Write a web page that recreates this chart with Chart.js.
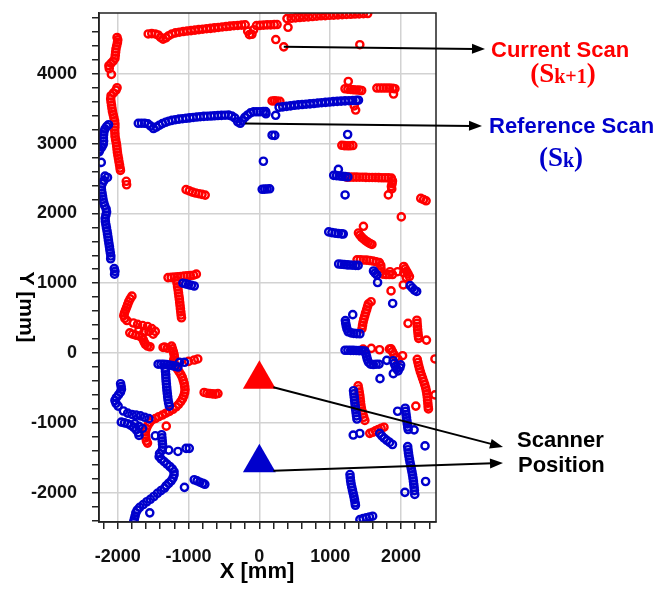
<!DOCTYPE html>
<html>
<head>
<meta charset="utf-8">
<script src="https://cdn.jsdelivr.net/npm/chart.js@4.4.0/dist/chart.umd.min.js"></script>
<style>
  html, body { margin: 0; padding: 0; background: #fff; }
  #wrap { width: 660px; height: 593px; }
</style>
</head>
<body>
<div id="wrap"><canvas id="scan" width="660" height="593"></canvas></div>
<script>
// axis ranges [mm]
const xRange = [-2265, 2495];
const yRange = [-2420, 4870];

// scanner positions
const currentPose = [[0, -375]];
const referencePose = [[0, -1570]];

// ---- current scan S(k+1), red ----
const curTopLeft = [[-1570,4570],[-1520,4575],[-1470,4570],[-1430,4555],[-1395,4520],[-1360,4495],[-1320,4515],[-1280,4545],[-1235,4570],[-1185,4585],[-1130,4595],[-1075,4605],[-1020,4612],[-965,4618],[-910,4625],[-855,4632],[-800,4638],[-745,4645],[-690,4650],[-635,4657],[-580,4663],[-525,4670],[-470,4676],[-415,4682],[-360,4688],[-305,4692],[-250,4697],[-200,4700],[-165,4610],[-140,4560],[-105,4565],[-80,4630],[-40,4690],[10,4693],[60,4697],[110,4700],[160,4700],[210,4703],[250,4705],[405,4665],[232,4490],[345,4385],[1419,4416]];
const curTopRight = [[390,4790],[450,4795],[510,4800],[570,4805],[630,4810],[690,4815],[750,4820],[810,4825],[870,4830],[930,4833],[990,4837],[1050,4840],[1110,4843],[1170,4847],[1230,4850],[1290,4852],[1350,4855],[1410,4857],[1470,4860],[1530,4862]];
const curMidRight = [[1256,3890],[1210,3785],[1250,3780],[1290,3775],[1330,3770],[1370,3768],[1410,3765],[1445,3760],[1340,3540],[1360,3480],[1660,3795],[1705,3795],[1750,3795],[1795,3795],[1840,3795],[1885,3790],[1915,3785],[1895,3710],[180,3610],[215,3612],[250,3608],[290,3605],[1165,2975],[1200,2970],[1240,2968],[1280,2968],[1320,2972]];
const curWall2500 = [[1235,2520],[1280,2520],[1325,2520],[1370,2520],[1415,2518],[1460,2518],[1505,2516],[1550,2515],[1595,2515],[1640,2513],[1685,2512],[1730,2510],[1775,2510],[1820,2508],[1865,2505],[1880,2465],[1875,2425],[1865,2385],[1870,2350],[1822,2265],[2280,2215],[2320,2198],[2355,2180],[2005,1950]];
const curLeftTop = [[-2010,4520],[-2000,4485],[-2005,4445],[-2015,4400],[-2025,4355],[-2030,4310],[-2035,4265],[-2040,4220],[-2065,4180],[-2095,4150],[-2125,4115],[-2120,4075],[-2090,3990]];
const curLeftCol = [[-2010,3800],[-2025,3765],[-2060,3725],[-2095,3685],[-2100,3640],[-2095,3595],[-2088,3550],[-2082,3505],[-2075,3460],[-2065,3415],[-2055,3370],[-2045,3325],[-2040,3280],[-2040,3235],[-2043,3190],[-2040,3145],[-2038,3100],[-2030,3055],[-2022,3010],[-2015,2965],[-2010,2920],[-2005,2875],[-1998,2830],[-1990,2785],[-1983,2740],[-1975,2695],[-1968,2650],[-1962,2615],[-1880,2460],[-1875,2410]];
const curMidLeft = [[-1035,2340],[-990,2322],[-945,2305],[-900,2292],[-855,2282],[-810,2272],[-765,2262],[-1290,1080],[-1245,1083],[-1200,1088],[-1155,1092],[-1110,1097],[-1065,1102],[-1020,1106],[-975,1110],[-930,1115],[-890,1130],[-1170,1040],[-1162,995],[-1155,950],[-1148,905],[-1142,860],[-1136,815],[-1130,770],[-1125,725],[-1120,680],[-1115,635],[-1110,590],[-1105,545],[-1100,505]];
const curLeftCurve = [[-1800,815],[-1825,775],[-1845,735],[-1860,695],[-1875,655],[-1890,615],[-1905,575],[-1915,535],[-1900,495],[-1870,465],[-1780,430],[-1720,410],[-1650,395],[-1580,380],[-1520,350],[-1470,310],[-1560,310],[-1630,300],[-1700,330],[-1500,270],[-1830,290],[-1790,270],[-1745,255],[-1700,245],[-1660,225],[-1640,190],[-1625,155],[-1610,125],[-1580,100],[-1545,90],[-1340,85],[-1300,70]];
const curSCurve = [[-1240,100],[-1228,60],[-1215,20],[-1205,-20],[-1200,-60],[-1210,-100],[-1205,-140],[-1185,-180],[-1160,-225],[-1135,-265],[-1110,-305],[-1090,-345],[-1075,-390],[-1062,-435],[-1055,-480],[-1050,-525],[-1055,-570],[-1068,-615],[-1085,-655],[-1110,-695],[-1140,-735],[-1175,-770],[-1220,-805],[-1270,-835],[-1320,-862],[-1370,-888],[-1420,-912],[-1470,-938],[-1520,-962],[-1550,-995],[-1575,-1035],[-1595,-1080],[-1608,-1125],[-1610,-1170],[-1605,-1215],[-1595,-1260],[-1580,-1290],[-1360,80],[-1000,-120],[-920,-100],[-870,-85],[-1315,-1047],[-780,-565],[-740,-575],[-700,-580],[-660,-585],[-620,-588],[-585,-580]];
const curRight = [[1470,1815],[1400,1720],[1420,1688],[1445,1658],[1475,1630],[1505,1605],[1535,1585],[1565,1568],[1590,1555],[1380,1335],[1425,1335],[1470,1332],[1515,1330],[1560,1325],[1605,1318],[1650,1305],[1695,1295],[1715,1255],[1718,1210],[1722,1165],[1745,1130],[1790,1125],[1835,1125],[1880,1125],[1845,1165],[1953,1165],[2040,1240],[2060,1205],[2080,1170],[2100,1135],[2120,1095],[2040,1150],[2075,1080],[2033,975],[1860,890],[2100,425],[2360,185],[1578,735],[1450,350],[1457,395],[1465,440],[1475,485],[1488,530],[1500,575],[1515,620],[1528,665],[1540,705],[2225,470],[2228,425],[2232,380],[2236,335],[2240,290],[2245,245],[2250,210]];
const curLowRight = [[1465,57],[1581,66],[1698,47],[1837,57],[2023,-38],[1860,60],[1880,20],[1900,-20],[1930,-60],[1960,-90],[2230,-90],[2240,-135],[2250,-180],[2262,-225],[2275,-270],[2290,-315],[2305,-360],[2320,-405],[2335,-450],[2348,-495],[2358,-540],[2366,-585],[2372,-630],[2376,-675],[2380,-720],[2384,-765],[2388,-800],[2210,-760],[2480,-85],[2480,-600],[1395,-470],[1403,-515],[1411,-560],[1418,-605],[1423,-650],[1428,-695],[1433,-740],[1440,-785],[1450,-830],[1462,-875],[1475,-920],[1490,-965],[1560,-1150],[1600,-1135],[1640,-1115],[1680,-1095],[1720,-1078],[1760,-1062]];

// ---- reference scan S(k), blue ----
const refLeftTop = [[-2130,3270],[-2155,3245],[-2180,3210],[-2195,3170],[-2200,3125],[-2203,3080],[-2200,3035],[-2205,2990],[-2225,2950],[-2250,2915],[-2265,2880],[-2233,2730]];
const refLeftCol = [[-2180,2535],[-2145,2515],[-2195,2470],[-2220,2425],[-2232,2380],[-2230,2335],[-2222,2290],[-2215,2245],[-2208,2200],[-2198,2155],[-2185,2110],[-2165,2065],[-2158,2020],[-2168,1975],[-2178,1930],[-2175,1885],[-2168,1840],[-2160,1795],[-2152,1750],[-2145,1705],[-2138,1660],[-2132,1615],[-2125,1570],[-2118,1525],[-2112,1480],[-2105,1435],[-2098,1390],[-2100,1350],[-2050,1210],[-2040,1170],[-2045,1130]];
const refTopLine = [[-1710,3290],[-1665,3292],[-1620,3290],[-1575,3282],[-1535,3250],[-1495,3215],[-1455,3235],[-1415,3262],[-1370,3285],[-1325,3305],[-1280,3320],[-1235,3332],[-1185,3342],[-1135,3350],[-1085,3356],[-1035,3362],[-985,3368],[-935,3374],[-885,3380],[-835,3385],[-785,3389],[-735,3392],[-685,3395],[-635,3398],[-585,3401],[-535,3404],[-485,3406],[-435,3408],[-390,3395],[-345,3365],[-305,3310],[-270,3290],[-240,3325],[-205,3375],[-165,3410],[-125,3440],[-80,3455],[-35,3455],[10,3455],[55,3457],[90,3457],[93,3426],[230,3405],[180,3120],[218,3118],[57,2747],[40,2345],[75,2348],[110,2350],[145,2352],[1247,3130]];
const refTopRight = [[279,3520],[330,3526],[385,3533],[440,3540],[495,3548],[550,3554],[605,3559],[660,3564],[715,3569],[770,3574],[825,3580],[880,3585],[935,3590],[990,3595],[1045,3600],[1100,3604],[1155,3608],[1210,3611],[1265,3614],[1320,3617],[1370,3619],[1400,3621]];
const refMidRight = [[1050,2545],[1090,2541],[1130,2536],[1170,2531],[1210,2527],[1250,2522],[1116,2630],[1211,2264],[980,1735],[1025,1725],[1070,1717],[1115,1711],[1160,1706],[1185,1705],[1120,1275],[1160,1271],[1200,1267],[1240,1263],[1280,1260],[1320,1258],[1360,1256],[1395,1255],[1612,1175],[1635,1145],[1660,1120],[1670,1010],[2130,965],[2160,932],[2190,902],[2222,882],[1883,710],[1319,550],[1215,465],[1220,425],[1228,385],[1238,345],[1255,305],[1295,288],[1335,282],[1375,278],[1420,276]];
const refLowRight = [[1210,40],[1250,40],[1290,38],[1330,38],[1370,36],[1410,35],[1450,33],[1490,30],[1505,-10],[1515,-50],[1525,-90],[1540,-130],[1570,-160],[1610,-165],[1650,-160],[1690,-160],[1800,-105],[1890,-110],[1905,-150],[1922,-190],[1940,-225],[1960,-255],[1985,-210],[1995,-170],[1892,-295],[1704,-367],[1330,-540],[1335,-585],[1340,-630],[1345,-675],[1350,-720],[1355,-765],[1360,-810],[1366,-855],[1372,-900],[1378,-945],[1326,-1175],[1419,-1152],[1700,-1150],[1730,-1188],[1762,-1220],[1800,-1250],[1840,-1280],[1880,-1310],[2340,-1330],[1953,-834],[2060,-790],[2066,-835],[2072,-880],[2078,-925],[2084,-970],[2090,-1015],[2096,-1060],[2102,-1095],[2186,-1100]];
const refFarRight = [[2095,-1340],[2100,-1385],[2106,-1430],[2112,-1475],[2120,-1520],[2128,-1565],[2137,-1610],[2146,-1655],[2155,-1700],[2163,-1745],[2170,-1790],[2176,-1835],[2181,-1880],[2186,-1925],[2190,-1970],[2195,-2025],[2348,-1840],[2056,-1995],[1280,-1740],[1284,-1785],[1289,-1830],[1296,-1875],[1305,-1920],[1315,-1965],[1325,-2010],[1335,-2055],[1344,-2100],[1352,-2145],[1357,-2180],[1420,-2385],[1465,-2372],[1510,-2360],[1555,-2348],[1600,-2337]];
const refMidLeft = [[-1080,1000],[-1040,990],[-1000,980],[-960,970],[-920,960],[-1430,-160],[-1390,-160],[-1350,-160],[-1310,-165],[-1270,-172],[-1230,-180],[-1190,-190],[-1150,-200],[-1128,-133],[-1058,-133],[-1330,-220],[-1326,-265],[-1322,-310],[-1320,-355],[-1317,-400],[-1313,-445],[-1309,-490],[-1305,-535],[-1300,-580],[-1295,-625],[-1290,-670],[-1282,-715],[-1272,-760]];
const refLowLeft = [[-1960,-440],[-1952,-480],[-1948,-520],[-1962,-560],[-1990,-600],[-2020,-640],[-2040,-680],[-2025,-720],[-1995,-760],[-1920,-830],[-1860,-860],[-1800,-880],[-1740,-890],[-1680,-900],[-1620,-920],[-1560,-940],[-1950,-990],[-1905,-1000],[-1860,-1012],[-1815,-1035],[-1775,-1065],[-1740,-1100],[-1710,-1140],[-1700,-1180],[-1760,-1010],[-1700,-1050],[-1650,-1080]];
const refLowPath = [[-1470,-1185],[-1380,-1170],[-1376,-1215],[-1372,-1260],[-1368,-1305],[-1364,-1350],[-1375,-1395],[-1410,-1440],[-1415,-1485],[-1385,-1520],[-1345,-1555],[-1305,-1590],[-1265,-1625],[-1230,-1660],[-1205,-1700],[-1205,-1745],[-1220,-1790],[-1245,-1830],[-1280,-1865],[-1315,-1900],[-1340,-1935],[-1390,-1970],[-1440,-2010],[-1490,-2055],[-1540,-2095],[-1590,-2130],[-1640,-2170],[-1690,-2210],[-1725,-2250],[-1745,-2290],[-1755,-2335],[-1765,-2375],[-1775,-2415],[-1548,-2289],[-1280,-1390],[-1150,-1410],[-1035,-1365],[-990,-1365],[-1058,-1924],[-920,-1815],[-880,-1830],[-840,-1850],[-800,-1865],[-770,-1880]];

// points the annotation arrows start from
const currentArrowFrom = [345, 4385];
const referenceArrowFrom = [-200, 3287];

const currentScan = [].concat(curTopLeft, curTopRight, curMidRight, curWall2500, curLeftTop, curLeftCol, curMidLeft, curLeftCurve, curSCurve, curRight, curLowRight);
const referenceScan = [].concat(refLeftTop, refLeftCol, refTopLine, refTopRight, refMidRight, refLowRight, refFarRight, refMidLeft, refLowLeft, refLowPath);

const RED = '#ff0000';
const BLUE = '#0000cc';
const SANS = '"Liberation Sans", Arial, sans-serif';
const SERIF = '"Liberation Serif", "Times New Roman", serif';

const toPts = arr => arr.map(([x, y]) => ({ x, y }));

// ticks every 200 mm, labels every 1000 mm
function everyTwoHundred(scale) {
  const ticks = [];
  for (let v = Math.ceil(scale.min / 200) * 200; v <= scale.max; v += 200) ticks.push({ value: v });
  scale.ticks = ticks;
}
const isMajor = v => v % 1000 === 0;

function arrow(ctx, x1, y1, x2, y2) {
  const a = Math.atan2(y2 - y1, x2 - x1);
  const len = 13, half = 5;
  ctx.beginPath();
  ctx.moveTo(x1, y1);
  ctx.lineTo(x2 - Math.cos(a) * len * 0.8, y2 - Math.sin(a) * len * 0.8);
  ctx.stroke();
  ctx.beginPath();
  ctx.moveTo(x2, y2);
  ctx.lineTo(x2 - Math.cos(a) * len + Math.sin(a) * half, y2 - Math.sin(a) * len - Math.cos(a) * half);
  ctx.lineTo(x2 - Math.cos(a) * len - Math.sin(a) * half, y2 - Math.sin(a) * len + Math.cos(a) * half);
  ctx.closePath();
  ctx.fill();
}

// "(S" + subscript + ")" centred on cx
function scanSymbol(ctx, sub, cx, base, color) {
  const big = 'bold 27px ' + SERIF, small = 'bold 20px ' + SERIF;
  ctx.font = big;
  const wOpen = ctx.measureText('(S').width, wClose = ctx.measureText(')').width;
  ctx.font = small;
  const wSub = ctx.measureText(sub).width;
  let x = cx - (wOpen + wSub + wClose) / 2;
  ctx.fillStyle = color;
  ctx.textAlign = 'left';
  ctx.textBaseline = 'alphabetic';
  ctx.font = big;
  ctx.fillText('(S', x, base);
  x += wOpen;
  ctx.font = small;
  ctx.fillText(sub, x, base + 1);
  x += wSub;
  ctx.font = big;
  ctx.fillText(')', x, base);
}

const annotations = {
  id: 'annotations',
  afterDraw(chart) {
    const { ctx, chartArea: a, scales: { x, y } } = chart;
    ctx.save();
    // plot frame
    ctx.strokeStyle = '#222';
    ctx.lineWidth = 1.5;
    ctx.strokeRect(a.left, a.top, a.right - a.left, a.bottom - a.top);

    // arrows
    ctx.strokeStyle = '#000';
    ctx.fillStyle = '#000';
    ctx.lineWidth = 2;
    arrow(ctx, x.getPixelForValue(currentArrowFrom[0]), y.getPixelForValue(currentArrowFrom[1]), 485, 49);
    arrow(ctx, x.getPixelForValue(referenceArrowFrom[0]), y.getPixelForValue(referenceArrowFrom[1]), 482, 126);
    const rx = x.getPixelForValue(currentPose[0][0]), ry = y.getPixelForValue(currentPose[0][1]);
    const bx = x.getPixelForValue(referencePose[0][0]), by = y.getPixelForValue(referencePose[0][1]);
    arrow(ctx, rx + 14, ry + 8, 503, 447);
    arrow(ctx, bx + 14, by + 8, 503, 463);

    // labels
    ctx.textAlign = 'left';
    ctx.textBaseline = 'alphabetic';
    ctx.font = 'bold 22px ' + SANS;
    ctx.fillStyle = RED;
    ctx.fillText('Current Scan', 491, 57);
    ctx.fillStyle = BLUE;
    ctx.fillText('Reference Scan', 489, 133);
    ctx.fillStyle = '#000';
    ctx.fillText('Scanner', 517, 447);
    ctx.fillText('Position', 518, 472);
    scanSymbol(ctx, 'k+1', 563, 82, RED);
    scanSymbol(ctx, 'k', 561, 166, BLUE);

    // axis titles
    ctx.fillStyle = '#000';
    ctx.font = 'bold 22px ' + SANS;
    ctx.textAlign = 'center';
    ctx.fillText('X [mm]', 257, 578);
    ctx.translate(20, 307);
    ctx.rotate(Math.PI / 2);
    ctx.font = 'bold 21px ' + SANS;
    ctx.textBaseline = 'alphabetic';
    ctx.fillText('Y [mm]', 0, 0);
    ctx.restore();
  }
};

const axis = (range, fit, pad) => ({
  type: 'linear',
  min: range[0],
  max: range[1],
  afterBuildTicks: everyTwoHundred,
  afterFit: fit,
  grid: {
    color: c => (c.tick && isMajor(c.tick.value) ? '#d2d2d2' : 'rgba(0,0,0,0)'),
    lineWidth: 1.5,
    tickColor: '#222',
    tickWidth: 1.5,
    tickLength: 7
  },
  border: { color: '#222', width: 1.5 },
  ticks: {
    autoSkip: false,
    maxRotation: 0,
    padding: pad,
    color: '#111',
    font: { family: SANS, size: 18, weight: 'bold' },
    callback: v => (isMajor(v) ? String(v) : '')
  }
});

new Chart(document.getElementById('scan'), {
  type: 'scatter',
  data: {
    datasets: [
      { label: 'Reference Scan', data: toPts(referenceScan), borderColor: BLUE, backgroundColor: 'rgba(0,0,0,0)', pointRadius: 3.6, borderWidth: 2.4 },
      { label: 'Current Scan', data: toPts(currentScan), borderColor: RED, backgroundColor: 'rgba(0,0,0,0)', pointRadius: 3.6, borderWidth: 2.4 },
      { label: 'Scanner k+1', data: toPts(currentPose), pointStyle: 'triangle', pointRadius: 19, backgroundColor: RED, borderColor: RED, borderWidth: 0 },
      { label: 'Scanner k', data: toPts(referencePose), pointStyle: 'triangle', pointRadius: 19, backgroundColor: BLUE, borderColor: BLUE, borderWidth: 0 }
    ]
  },
  options: {
    responsive: false,
    animation: false,
    devicePixelRatio: 1,
    layout: { autoPadding: false, padding: { top: 13, right: 224, left: 0, bottom: 0 } },
    plugins: { legend: { display: false }, tooltip: { enabled: false } },
    scales: {
      x: axis(xRange, s => { s.height = 71; s.paddingLeft = 0; s.paddingRight = 0; }, 17),
      y: axis(yRange, s => { s.width = 99; s.paddingTop = 0; s.paddingBottom = 0; }, 15)
    }
  },
  plugins: [annotations]
});
</script>
</body>
</html>
